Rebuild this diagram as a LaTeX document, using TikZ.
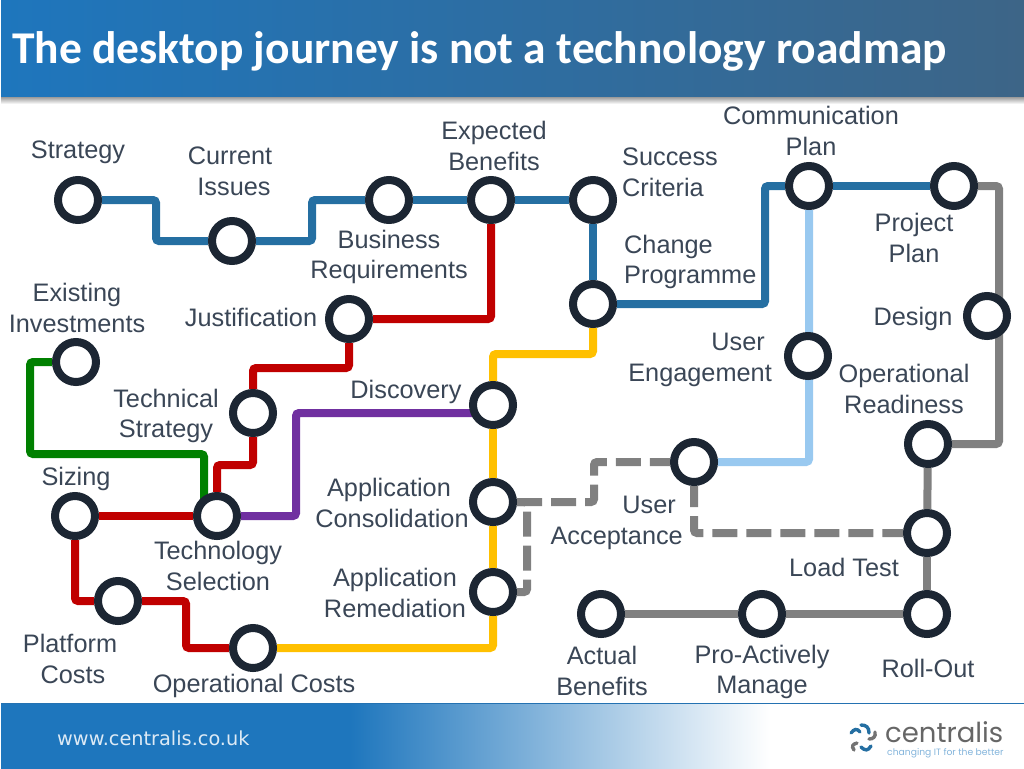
\documentclass[tikz,border=0pt]{standalone}
\usepackage{fontspec}
\setmainfont{Liberation Sans}
\newfontfamily\titlefont{Carlito}
\newfontfamily\webfont{DejaVu Sans}
\newfontfamily\logofont{Poppins}
\usetikzlibrary{backgrounds}
\definecolor{headblue}{HTML}{1E76BD}
\definecolor{headslate}{HTML}{3D6587}
\definecolor{ringdark}{HTML}{1C2633}
\definecolor{labelgrey}{HTML}{3A4656}
\definecolor{metroblue}{HTML}{256FA2}
\definecolor{metrosky}{HTML}{99C9F0}
\definecolor{metrored}{HTML}{C00000}
\definecolor{metroyellow}{HTML}{FFC000}
\definecolor{metropurple}{HTML}{7030A0}
\definecolor{metrogreen}{HTML}{008000}
\definecolor{metrogrey}{HTML}{808080}
\tikzset{
    station/.style={circle, draw=ringdark, fill=white, line width=8pt, minimum size=40pt, inner sep=0pt},
    stoplabel/.style={text=labelgrey, inner sep=0pt, align=center, font=\fontsize{25.3}{30.7}\selectfont},
    route/.style={line width=8pt, rounded corners=3pt},
    plannedroute/.style={route, metrogrey, dash pattern=on 25pt off 9pt},
    wing/.style={line width=3.4pt, line cap=round}
}
\begin{document}
\begin{tikzpicture}[x=1pt, y=-1pt]
    \useasboundingbox (0,0) rectangle (1024,768);
    % header and footer
    \shade[top color=black!45, bottom color=white] (1,96) rectangle (1024,104);
    \shade[left color=headblue, middle color=headblue!80!headslate, right color=headslate] (1,1) rectangle (1024,96);
    \fill[headblue] (1,703) rectangle (350,772);
    \shade[left color=headblue, right color=white] (350,703) rectangle (770,772);
    \draw[headblue!80!headslate, line width=1pt] (1,703) -- (1024,703);
    \node[anchor=west, inner sep=0pt, text=white, font=\titlefont\bfseries\fontsize{45.5}{50}\selectfont] (titletext) at (12,51) {The desktop journey is not a technology roadmap};
    \node[anchor=west, inner sep=0pt, text=white!85!headblue, font=\webfont\fontsize{19.3}{22}\selectfont] (webtext) at (57,738) {www.centralis.co.uk};
    \node[anchor=base west, inner sep=0pt, text=black!60, font=\logofont\fontsize{27.5}{30}\selectfont] (logotext) at (885,742) {centralis};
    \node[anchor=base west, inner sep=0pt, text=headblue!55, font=\logofont\fontsize{9.2}{11}\selectfont] (logotag) at (887,755) {changing IT for the better};
    \draw[wing, metroblue] (851,733) .. controls (854,729) and (857,728) .. (860,732);
    \draw[wing, metroblue] (861,725) .. controls (866,725) and (869,727) .. (869,733);
    \draw[wing, black!55] (875,732) .. controls (876,737) and (873,739) .. (869,739);
    \draw[wing, metroblue] (871,746) .. controls (868,751) and (865,751) .. (861,747);
    \draw[wing, black!55] (857,743) .. controls (853,744) and (851,746) .. (854,750);
    % stations
    \node[station] (strategy) at (78,200) {};
    \node[station] (currentissues) at (232,241) {};
    \node[station] (business) at (389,200) {};
    \node[station] (expected) at (491,200) {};
    \node[station] (success) at (593,200) {};
    \node[station] (change) at (593,304) {};
    \node[station] (communication) at (809,186) {};
    \node[station] (projectplan) at (954,186) {};
    \node[station] (design) at (987,316) {};
    \node[station] (engagement) at (808,356) {};
    \node[station] (readiness) at (928,444) {};
    \node[station] (loadtest) at (927,533) {};
    \node[station] (rollout) at (927,614) {};
    \node[station] (proactive) at (762,614) {};
    \node[station] (actual) at (601,614) {};
    \node[station] (acceptance) at (694,462) {};
    \node[station] (consolidation) at (493,502) {};
    \node[station] (remediation) at (493,592) {};
    \node[station] (discovery) at (493,405) {};
    \node[station] (justification) at (349,319) {};
    \node[station] (techstrategy) at (253,413) {};
    \node[station] (techselection) at (217,516) {};
    \node[station] (sizing) at (75,516) {};
    \node[station] (platform) at (118,601) {};
    \node[station] (opcosts) at (253,648) {};
    \node[station] (existing) at (76,362) {};
    % routes
    \begin{scope}[on background layer]
        \draw[route, metrosky] (communication) -- (809,462) -- (acceptance);
        \draw[route, metroblue] (strategy) -- (156,200) -- (156,241) -- (currentissues);
        \draw[route, metroblue] (currentissues) -- (312,241) -- (312,200) -- (business);
        \draw[route, metroblue] (business) -- (expected);
        \draw[route, metroblue] (expected) -- (success);
        \draw[route, metroblue] (success) -- (change);
        \draw[route, metroblue] (change) -- (765,304) -- (765,186) -- (communication);
        \draw[route, metroblue] (communication) -- (projectplan);
        \draw[route, metrogrey] (projectplan) -- (999,186) -- (999,444) -- (readiness);
        \draw[route, metrogrey] (readiness) -- (loadtest);
        \draw[route, metrogrey] (loadtest) -- (rollout);
        \draw[route, metrogrey] (rollout) -- (proactive);
        \draw[route, metrogrey] (proactive) -- (actual);
        \draw[plannedroute] (consolidation) -- (594,502) -- (594,462) -- (acceptance);
        \draw[plannedroute, dash phase=4pt] (remediation) -- (527,592) -- (527,502) -- (consolidation);
        \draw[plannedroute, dash phase=4pt] (acceptance) -- (694,533) -- (loadtest);
        \draw[route, metrored] (expected) -- (491,319) -- (justification);
        \draw[route, metrored] (justification) -- (349,368) -- (253,368) -- (techstrategy);
        \draw[route, metrored] (techstrategy) -- (253,465) -- (217,465) -- (techselection);
        \draw[route, metrored] (sizing) -- (techselection);
        \draw[route, metrored] (sizing) -- (75,601) -- (platform);
        \draw[route, metrored] (platform) -- (186,601) -- (186,648) -- (opcosts);
        \draw[route, metroyellow] (opcosts) -- (493,648) -- (remediation);
        \draw[route, metroyellow] (remediation) -- (consolidation);
        \draw[route, metroyellow] (consolidation) -- (discovery);
        \draw[route, metroyellow] (discovery) -- (493,354) -- (593,354) -- (change);
        \draw[route, metropurple] (techselection) -- (296,516) -- (296,413) -- (discovery |- 0,413);
        \draw[route, metrogreen] (existing) -- (30,362) -- (30,454) -- (204,454) -- (204,516);
    \end{scope}
    % labels
    \node[stoplabel] (strategylabel) at (78,152) {Strategy};
    \node[stoplabel] (currentlabel) at (230,171) {Current\\\hspace*{8pt}Issues};
    \node[stoplabel] (businesslabel) at (389,257) {Business\\Requirements};
    \node[stoplabel] (expectedlabel) at (494,146) {Expected\\Benefits};
    \node[stoplabel, anchor=west, align=left] (successlabel) at (622,172) {Success\\Criteria};
    \node[stoplabel, anchor=west, align=left] (changelabel) at (624,262) {Change\\Programme};
    \node[stoplabel] (communicationlabel) at (811,131) {Communication\\Plan};
    \node[stoplabel] (projectlabel) at (914,238) {Project\\Plan};
    \node[stoplabel] (designlabel) at (913,319) {Design};
    \node[stoplabel, anchor=east, align=right] (engagementlabel) at (772,360) {User\hspace*{7pt}\\Engagement};
    \node[stoplabel] (readinesslabel) at (904,389) {Operational\\Readiness};
    \node[stoplabel] (loadtestlabel) at (844,567) {Load Test};
    \node[stoplabel] (rolloutlabel) at (928,668) {Roll-Out};
    \node[stoplabel] (proactivelabel) at (762,672) {Pro-Actively\\Manage};
    \node[stoplabel] (actuallabel) at (602,671) {Actual\\Benefits};
    \node[stoplabel, anchor=east, align=right] (acceptancelabel) at (683,523) {User\hspace*{7pt}\\Acceptance};
    \node[stoplabel] (consolidationlabel) at (392,503) {Application\hspace*{6pt}\\Consolidation};
    \node[stoplabel] (remediationlabel) at (395,593) {Application\\Remediation};
    \node[stoplabel] (discoverylabel) at (406,392) {Discovery};
    \node[stoplabel] (justificationlabel) at (251,317) {Justification};
    \node[stoplabel] (techstrategylabel) at (166,416) {Technical\\Strategy};
    \node[stoplabel] (techselectionlabel) at (218,566) {Technology\\Selection};
    \node[stoplabel] (sizinglabel) at (76,479) {Sizing};
    \node[stoplabel] (platformlabel) at (70,659) {Platform\\\hspace*{6pt}Costs};
    \node[stoplabel] (opcostslabel) at (254,686) {Operational Costs};
    \node[stoplabel] (existinglabel) at (77,308) {Existing\\Investments};
\end{tikzpicture}
\end{document}
